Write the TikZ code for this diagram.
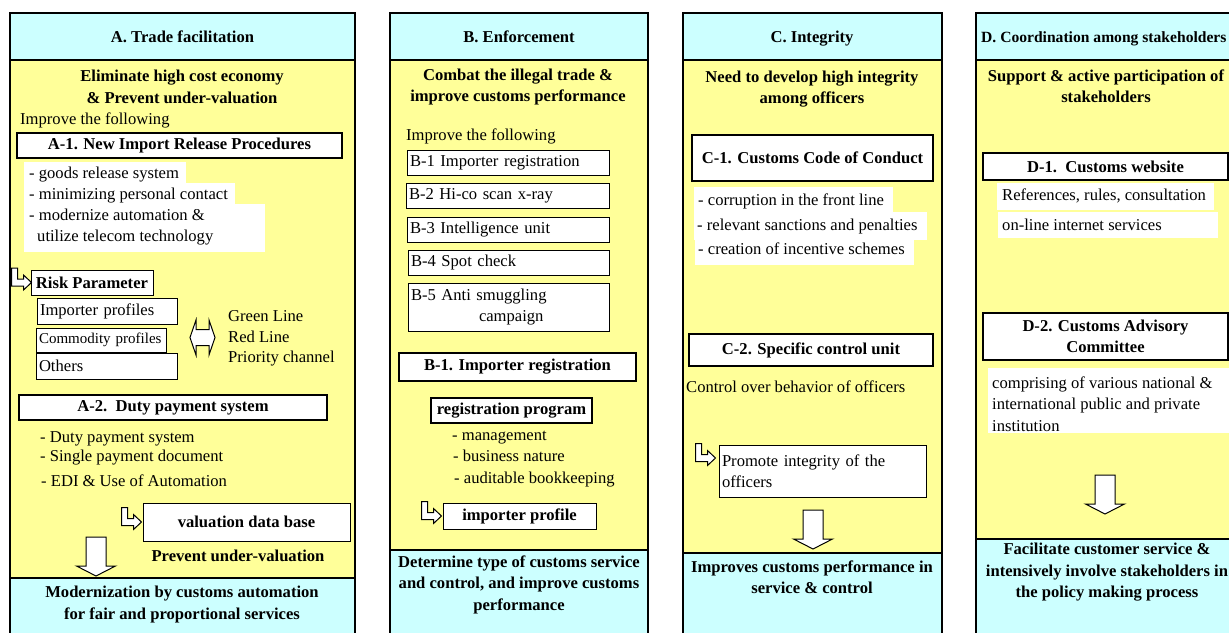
\documentclass[tikz,border=0pt]{standalone}
\usepackage{fontspec}
\setmainfont{Liberation Serif}
\usetikzlibrary{calc}
\definecolor{paleyellow}{HTML}{FFFF99}
\definecolor{paleblue}{HTML}{CCFFFF}
\begin{document}
\begin{tikzpicture}[x=1pt,y=-1pt,
  reg/.style={font=\fontsize{16.6}{21.5}\selectfont},
  bld/.style={font=\fontsize{16.6}{21.5}\selectfont\bfseries},
  txt/.style={reg, inner sep=0pt, anchor=mid west, yshift=-3pt},
  btxt/.style={bld, inner sep=0pt, align=center},
  headtxt/.style={bld, inner sep=0pt, anchor=base},
  frame/.style={draw=black, line width=2pt},
  thickbox/.style={draw=black, line width=2pt, fill=white, bld, align=center, inner sep=0pt},
  thinbox/.style={draw=black, line width=1pt, fill=white, reg, align=left, inner xsep=3pt, inner ysep=0pt},
  boldbox/.style={draw=black, line width=1pt, fill=white, bld, align=center, inner sep=0pt},
  hollow/.style={draw=black, line width=1pt, fill=white, line join=miter},
  pics/turnarrow/.style={code={
    \draw[hollow] (0,0) -- (6,0) -- (6,11) -- (12,11) -- (12,7) -- (20,14.5)
      -- (12,22) -- (12,18) -- (0,18) -- cycle;}},
  pics/downarrow/.style={code={
    \draw[hollow] (-10,0) -- (10,0) -- (10,29) -- (19.5,29) -- (0,39)
      -- (-19.5,29) -- (-10,29) -- cycle;}},
  pics/twoway/.style={code={
    \draw[hollow] (-12.5,0) -- (-6.5,-17.5) -- (-6.5,-8) -- (6.5,-8) -- (6.5,-17.5)
      -- (12.5,0) -- (6.5,17.5) -- (6.5,8) -- (-6.5,8) -- (-6.5,17.5) -- cycle;}}
]
\useasboundingbox (0,0) rectangle (1229,632);
\clip (0,0) rectangle (1229,632);
\fill[white] (0,0) rectangle (1229,632);

% four columns: heading band, body, result band
\foreach \xl/\xr/\yb in {10/355/578, 390/648/550, 683/942/553, 976/1236/539} {
  \fill[paleblue] (\xl,13) rectangle (\xr,60);
  \fill[paleyellow] (\xl,60) rectangle (\xr,\yb);
  \fill[paleblue] (\xl,\yb) rectangle (\xr,645);
  \draw[frame] (\xl,13) rectangle (\xr,645);
  \draw[draw=black, line width=1.5pt] (\xl,60) -- (\xr,60);
  \draw[draw=black, line width=1.5pt] (\xl,\yb) -- (\xr,\yb);
}

% ---------------- A. Trade facilitation ----------------
\node[headtxt] (hA) at (182.5,42) {A. Trade facilitation};
\node[btxt] (gA) at (182,87) {Eliminate high cost economy\\\& Prevent under-valuation};
\node[txt] (impA) at (20,119) {Improve the following};
\node[thickbox, minimum width=325, minimum height=25] (a1) at (179.5,145.5) {A-1. New Import Release Procedures};
\fill[white] (24,162) rectangle (186,183);
\fill[white] (24,183) rectangle (235,204);
\fill[white] (24,204) rectangle (265,252);
\node[txt] (a1l1) at (29,173) {- goods release system};
\node[txt] (a1l2) at (29,194) {- minimizing personal contact};
\node[txt] (a1l3) at (29,215) {- modernize automation \&};
\node[txt] (a1l4) at (37,236) {utilize telecom technology};
\node[boldbox, minimum width=122, minimum height=25] (risk) at (92,282.5) {Risk Parameter};
\pic at ($(risk.west)+(-19,-14.5)$) {turnarrow};
\node[thinbox, text width=134, minimum height=26] (ip) at (107,311) {Importer profiles};
\node[thinbox, text width=124, minimum height=24, font=\fontsize{15}{18}\selectfont] (cp) at (101,340) {Commodity profiles};
\node[thinbox, text width=135, minimum height=26] (ot) at (106.5,366) {Others};
\pic at (202.5,337.5) {twoway};
\node[txt] (gl) at (228,316) {Green Line};
\node[txt] (rl) at (228,337) {Red Line};
\node[txt] (pc) at (228,357) {Priority channel};
\node[thickbox, minimum width=308, minimum height=25] (a2) at (173,407.5) {A-2.\ \ Duty payment system};
\node[txt] (a2l1) at (40,437) {- Duty payment system};
\node[txt] (a2l2) at (40,456) {- Single payment document};
\node[txt] (a2l3) at (41,481) {- EDI \& Use of Automation};
\node[boldbox, minimum width=207, minimum height=38] (vdb) at (246.5,522) {valuation data base};
\pic at ($(vdb.west)+(-21,-14.5)$) {turnarrow};
\node[btxt] (pu) at (238,556) {Prevent under-valuation};
\pic at (96,537) {downarrow};
\node[btxt] (fA) at (182,604.5) {Modernization by customs automation\\for fair and proportional services};

% ---------------- B. Enforcement ----------------
\node[headtxt] (hB) at (519,42) {B. Enforcement};
\node[btxt] (gB) at (518,87) {Combat the illegal trade \&\\improve customs performance};
\node[txt] (impB) at (406,135) {Improve the following};
\node[thinbox, text width=196, minimum height=25] (b1) at (508,162.5) {B-1 Importer registration};
\node[thinbox, text width=197, minimum height=25] (b2) at (507.5,195.5) {B-2 Hi-co scan x-ray};
\node[thinbox, text width=196, minimum height=25] (b3) at (508,229.5) {B-3 Intelligence unit};
\node[thinbox, text width=195, minimum height=25] (b4) at (508.5,262.5) {B-4 Spot check};
\node[thinbox, text width=195, minimum height=48] (b5) at (508.5,307) {B-5 Anti smuggling\\\hspace*{68pt}campaign};
\node[thickbox, minimum width=237, minimum height=28] (b1r) at (517.5,367) {B-1. Importer registration};
\node[boldbox, line width=1.5pt, minimum width=161, minimum height=25] (rgp) at (511.5,410.5) {registration program};
\node[txt] (rgl1) at (452,435) {- management};
\node[txt] (rgl2) at (453,456) {- business nature};
\node[txt] (rgl3) at (454,478) {- auditable bookkeeping};
\node[boldbox, minimum width=153, minimum height=26] (ipf) at (519.5,516) {importer profile};
\pic at ($(ipf.west)+(-21,-14.5)$) {turnarrow};
\node[btxt] (fB) at (519,584.5) {Determine type of customs service\\and control, and improve customs\\performance};

% ---------------- C. Integrity ----------------
\node[headtxt] (hC) at (812,42) {C. Integrity};
\node[btxt] (gC) at (812,89) {Need to develop high integrity\\among officers};
\node[thickbox, minimum width=241, minimum height=46] (c1) at (812.5,158) {C-1. Customs Code of Conduct};
\fill[white] (694,187) rectangle (893,212);
\fill[white] (694,212) rectangle (927,240);
\fill[white] (695,240) rectangle (914,265);
\node[txt] (c1l1) at (698,200) {- corruption in the front line};
\node[txt] (c1l2) at (697,225) {- relevant sanctions and penalties};
\node[txt] (c1l3) at (698,249) {- creation of incentive schemes};
\node[thickbox, minimum width=244, minimum height=32] (c2) at (811,350) {C-2. Specific control unit};
\node[txt] (cob) at (686,387) {Control over behavior of officers};
\node[thinbox, text width=201, minimum height=52] (pi) at (822.5,471) {Promote integrity of the\\officers};
\pic at ($(pi.north west)+(-23,-1)$) {turnarrow};
\pic at (813,510) {downarrow};
\node[btxt] (fC) at (812,577) {Improves customs performance in\\service \& control};

% ---------------- D. Coordination among stakeholders ----------------
\node[font=\fontsize{15.6}{20}\selectfont\bfseries, inner sep=0pt, anchor=base west] (hD) at (981,42.5) {D. Coordination among stakeholders};
\node[btxt] (gD) at (1106,86) {Support \& active participation of\\stakeholders};
\node[thickbox, minimum width=245, minimum height=27] (d1) at (1105.5,166.5) {D-1.\ \ Customs website};
\fill[white] (997,183) rectangle (1214,210);
\fill[white] (998,212) rectangle (1218,238);
\node[txt] (d1l1) at (1002,195) {References, rules, consultation};
\node[txt] (d1l2) at (1002,225) {on-line internet services};
\node[thickbox, minimum width=245, minimum height=47] (d2) at (1105.5,336.5) {D-2. Customs Advisory\\Committee};
\fill[white] (988,368) rectangle (1240,433);
\node[reg, inner sep=0pt, align=left, anchor=west] (cmp) at (992,404) {comprising of various national \&\\international public and private\\institution};
\pic at (1105,475) {downarrow};
\node[btxt] (fD) at (1107,572.5) {Facilitate customer service \&\\intensively involve stakeholders in\\the policy making process};
\end{tikzpicture}
\end{document}
